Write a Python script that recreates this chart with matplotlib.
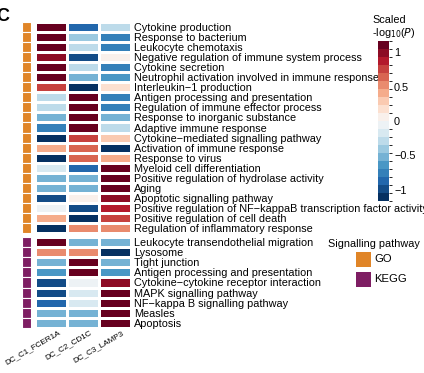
import numpy as np
import matplotlib
matplotlib.use("Agg")
import matplotlib.pyplot as plt
from matplotlib.colors import ListedColormap, BoundaryNorm
import matplotlib.colorbar as mcb
import matplotlib.patches as mpatches
import matplotlib.transforms as mtransforms

plt.rcParams['font.family'] = ['Liberation Sans', 'DejaVu Sans']

samples = ["DC_C1_FCER1A", "DC_C2_CD1C", "DC_C3_LAMP3"]

go_terms = [
    "Cytokine production",
    "Response to bacterium",
    "Leukocyte chemotaxis",
    "Negative regulation of immune system process",
    "Cytokine secretion",
    "Neutrophil activation involved in immune response",
    "Interleukin\u22121 production",
    "Antigen processing and presentation",
    "Regulation of immune effector process",
    "Response to inorganic substance",
    "Adaptive immune response",
    "Cytokine\u2212mediated signalling pathway",
    "Activation of immune response",
    "Response to virus",
    "Myeloid cell differentiation",
    "Positive regulation of hydrolase activity",
    "Aging",
    "Apoptotic signalling pathway",
    "Positive regulation of NF\u2212kappaB transcription factor activity",
    "Positive regulation of cell death",
    "Regulation of inflammatory response",
]
go_c1 = [1.1, 1.1, 1.1, 0.95, 1.1, 1.1, 0.8, -0.3, -0.3, -0.55, -0.7, -1.1, 0.4, -1.1,
         -0.2, -0.55, -0.55, -0.95, -0.03, 0.4, -1.1]
go_c2 = [-0.85, -0.4, -0.3, -0.95, -0.3, -0.55, -1.1, 1.1, 1.1, 1.1, 1.1, 0.8, 0.65, 0.65,
         -0.85, -0.55, -0.55, 0.07, -0.95, -1.1, 0.5]
go_c3 = [-0.25, -0.7, -0.7, 0.1, -0.8, -0.6, 0.2, -0.7, -0.7, -0.55, -0.3, 0.3, -1.1, 0.4,
         1.1, 1.1, 1.1, 0.95, 0.92, 0.7, 0.5]

kegg_terms = [
    "Leukocyte transendothelial migration",
    "Lysosome",
    "Tight junction",
    "Antigen processing and presentation",
    "Cytokine\u2212cytokine receptor interaction",
    "MAPK signalling pathway",
    "NF\u2212kappa B signalling pathway",
    "Measles",
    "Apoptosis",
]
kegg_c1 = [1.1, 0.5, -0.55, -0.6, -0.95, -0.95, -0.85, -0.55, -0.55]
kegg_c2 = [-0.55, 0.5, 1.1, 1.1, -0.03, -0.2, -0.2, -0.55, -0.55]
kegg_c3 = [-0.55, -1.1, -0.55, -0.6, 0.95, 1.1, 1.1, 1.1, 1.1]

pathways = ["GO", "KEGG"]
pathway_colors = ["#E08528", "#7E1E63"]

cbar_ticks = [-1, -0.5, 0, 0.5, 1]

W, H = 424, 373
fig = plt.figure(figsize=(W / 100, H / 100), dpi=100)


def px_axes(x0, y0, w, h):
    return fig.add_axes([x0 / W, 1 - (y0 + h) / H, w / W, h / H])


vmax = 1.16
bounds = np.linspace(-vmax, vmax, 21)
base = plt.get_cmap("RdBu_r")
cmap = ListedColormap([base(v) for v in np.linspace(0.0, 1.0, 20)])
norm = BoundaryNorm(bounds, cmap.N)

fs = 7.8


def draw_block(y0, h, terms, cols, show_x, ann_color):
    mat = np.array(cols).T  # rows x columns
    ax = px_axes(35, y0, 95.5, h)
    ax.pcolormesh(np.arange(mat.shape[1] + 1), np.arange(mat.shape[0] + 1), mat,
                  cmap=cmap, norm=norm, edgecolors="white", linewidth=0.8)
    ax.set_xlim(0, mat.shape[1])
    ax.set_ylim(mat.shape[0], 0)
    for s in ax.spines.values():
        s.set_visible(False)
    ax.yaxis.tick_right()
    ax.set_yticks(np.arange(mat.shape[0]) + 0.5)
    ax.set_yticklabels(terms, fontsize=fs)
    ax.tick_params(axis="y", length=0, pad=2.5)
    if show_x:
        ax.set_xticks(np.arange(mat.shape[1]) + 0.5)
        ax.set_xticklabels(samples, rotation=30, ha="right", va="top",
                           rotation_mode="anchor", fontsize=5.9)
        ax.tick_params(axis="x", length=0, pad=1)
        off = mtransforms.ScaledTranslation(7 / 100, 0, fig.dpi_scale_trans)
        for lab in ax.get_xticklabels():
            lab.set_transform(lab.get_transform() + off)
    else:
        ax.set_xticks([])
    # annotation column
    aa = px_axes(21.5, y0, 9.5, h)
    n = mat.shape[0]
    for i in range(n):
        aa.add_patch(mpatches.Rectangle((0, i), 1, 1, facecolor=ann_color,
                                        edgecolor="white", linewidth=0.8))
    aa.set_xlim(0, 1)
    aa.set_ylim(n, 0)
    aa.axis("off")


draw_block(22, 211, go_terms, [go_c1, go_c2, go_c3], False, pathway_colors[0])
draw_block(237, 91, kegg_terms, [kegg_c1, kegg_c2, kegg_c3], True, pathway_colors[1])

# panel letter
fig.text(-4 / W, 1 - 21 / H, "C", fontsize=13, fontweight="bold", ha="left", va="baseline")

# colorbar
cax = px_axes(378, 41, 10.5, 160)
cb = mcb.ColorbarBase(cax, cmap=cmap, norm=norm, boundaries=bounds, ticks=cbar_ticks,
                      orientation="vertical")
cb.outline.set_visible(False)
cb.ax.set_yticklabels(["\u22121", "\u22120.5", "0", "0.5", "1"], fontsize=fs)
cb.ax.tick_params(length=0, pad=4)
fig.text(372 / W, 1 - 23 / H, "Scaled", fontsize=fs, ha="left", va="baseline")
fig.text(372 / W, 1 - 36 / H, r"-log$_{10}$($\it{P}$)", fontsize=fs, ha="left", va="baseline")

# legend
fig.text(328 / W, 1 - 247 / H, "Signalling pathway", fontsize=fs, ha="left", va="baseline")
for i, (lab, col) in enumerate(zip(pathways, pathway_colors)):
    y0 = 252 + i * 20
    fig.patches.append(mpatches.Rectangle((355.5 / W, 1 - (y0 + 15) / H), 15 / W, 15 / H,
                                          transform=fig.transFigure, facecolor=col,
                                          edgecolor="none"))
    fig.text(374 / W, 1 - (y0 + 7.5) / H, lab, fontsize=fs + 0.3, ha="left", va="center")

fig.savefig("out.png", dpi=100)
